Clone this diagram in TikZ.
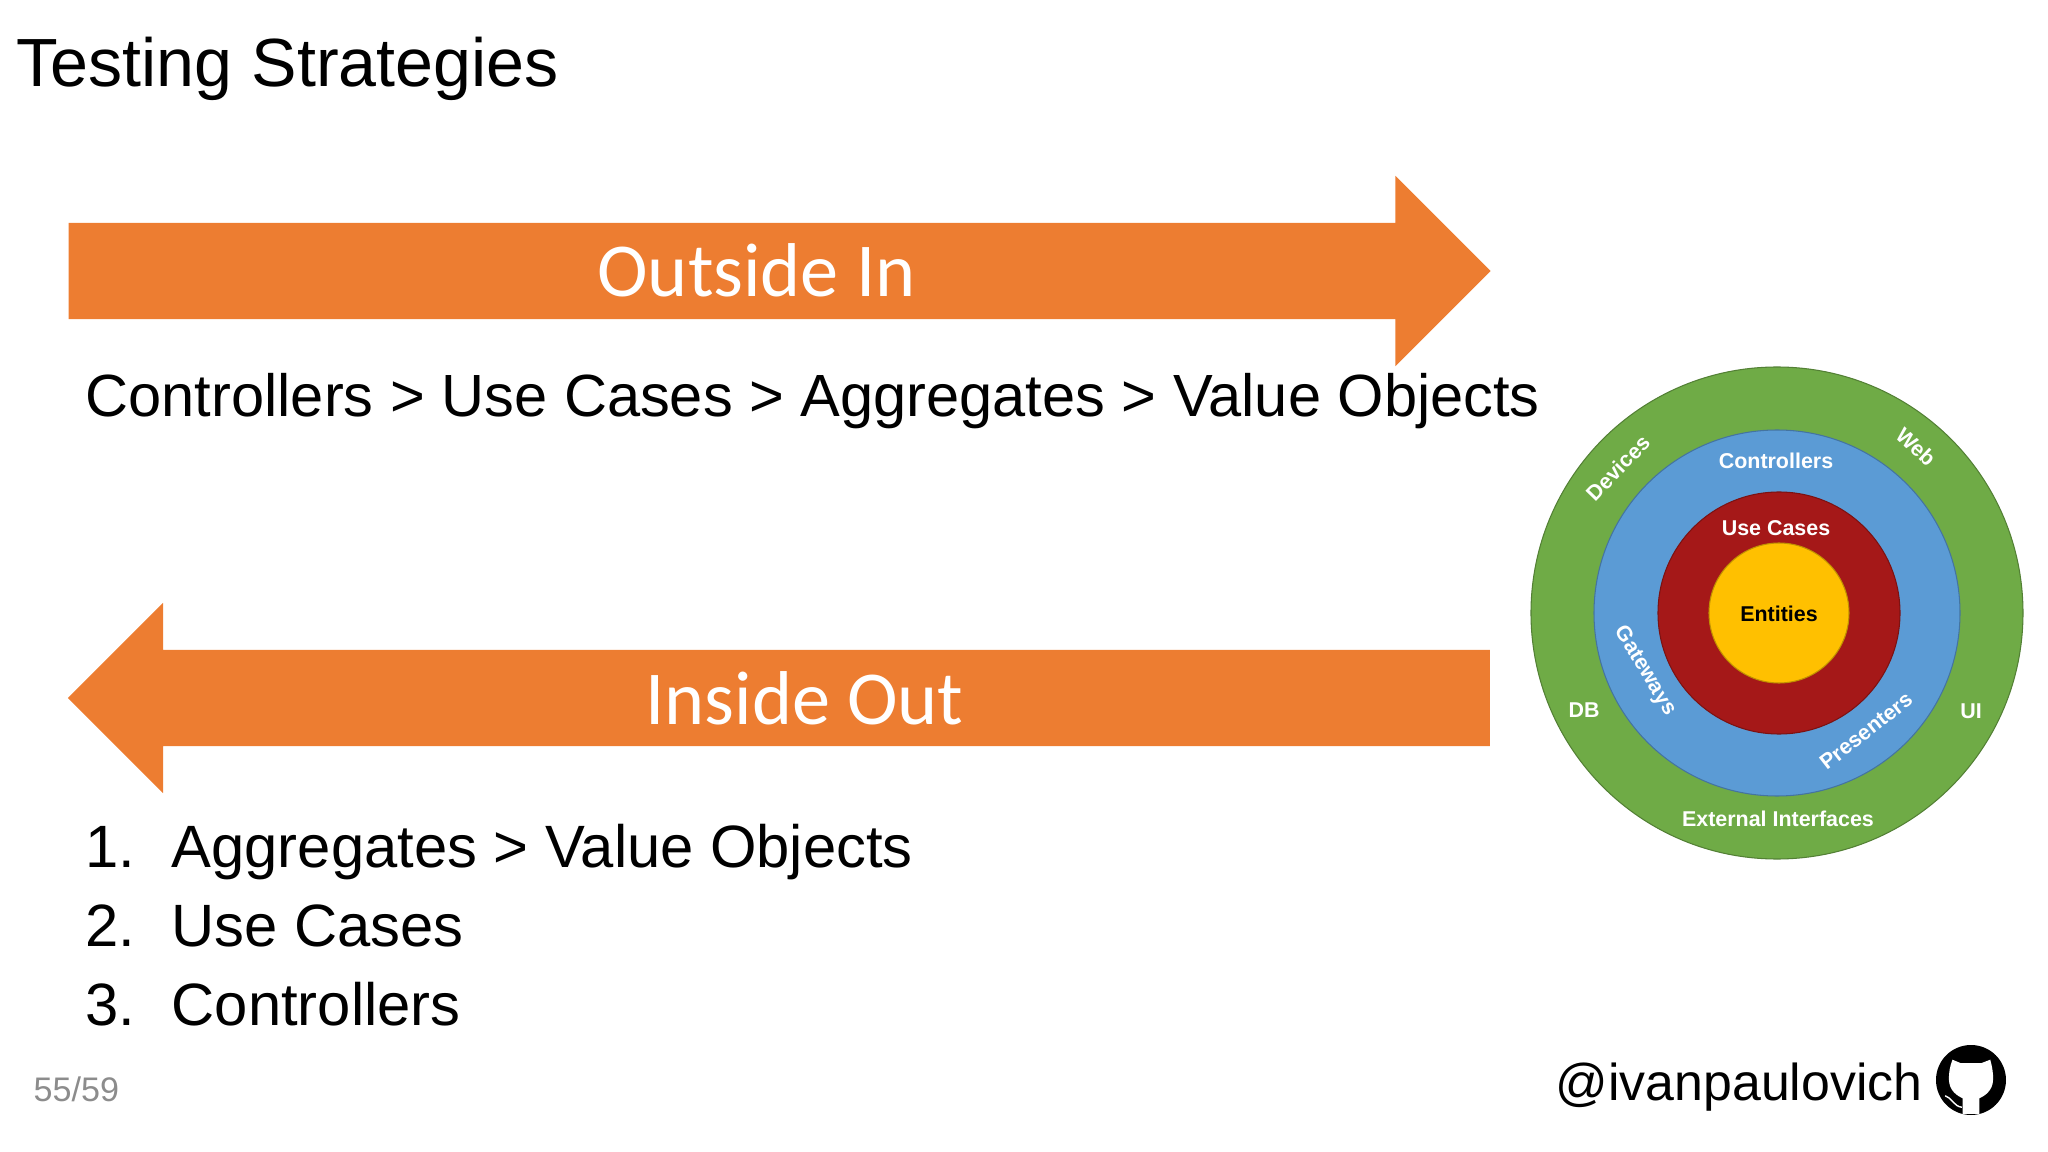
\documentclass[tikz,border=0pt]{standalone}
\usepackage{fontspec}
\setmainfont{Liberation Sans}
\newfontfamily\arrowfont{Carlito}
\usetikzlibrary{positioning,shapes.arrows}
\definecolor{arrowcol}{HTML}{ED7D31}
\definecolor{outercol}{HTML}{6FAB46}
\definecolor{middlecol}{HTML}{5B9BD5}
\definecolor{innercol}{HTML}{A51818}
\definecolor{corecol}{HTML}{FFC000}
\definecolor{pagecol}{HTML}{8C8C8C}
\tikzset{
  bigarrow/.style={single arrow, fill=arrowcol, inner xsep=0pt, inner ysep=0.475cm, minimum height=14.22cm,
    single arrow head extend=0.47cm, shape border rotate=#1},
  arrowlabel/.style={anchor=base, inner sep=0pt, text=white, font=\arrowfont\fontsize{21.7}{22}\selectfont},
  bodytext/.style={anchor=base west, inner sep=0pt, font=\fontsize{17}{17}\selectfont},
  ringlabel/.style={inner sep=0pt, text=white, font=\bfseries\fontsize{6.1}{6.1}\selectfont},
  pics/octocat/.style={
    code = {
        \fill[black] (0,0) circle (#1);
        \fill[white, scale=#1] (-0.53,0.58) -- (-0.29,0.48) -- (0.29,0.48) -- (0.55,0.58)
            .. controls (0.6,0.4) and (0.64,0.2) .. (0.63,0)
            .. controls (0.62,-0.3) and (0.4,-0.45) .. (0.24,-0.52) -- (0.24,-0.97) -- (-0.24,-0.97) -- (-0.24,-0.52)
            .. controls (-0.4,-0.45) and (-0.62,-0.3) .. (-0.63,0)
            .. controls (-0.64,0.2) and (-0.6,0.4) .. cycle;
        \draw[white, line width=0.4pt, scale=#1] (-0.74,-0.45) .. controls (-0.55,-0.5) and (-0.5,-0.75) .. (-0.26,-0.78);
    }
  }
}
\begin{document}
\begin{tikzpicture}
    \useasboundingbox (0,0) rectangle (20.48,-11.52);
    \node (title) [anchor=base west, inner sep=0pt, font=\fontsize{19.4}{19.4}\selectfont] at (0.16,-0.87) {Testing Strategies};

    \node (outsidearrow) [bigarrow=0] at (7.555,-2.71) {};
    \node (outsidelabel) [arrowlabel] at (7.565,-2.97) {Outside In};
    \node (outsidetext) [bodytext, font=\fontsize{16.95}{17}\selectfont] at (0.85,-4.17) {Controllers > Use Cases > Aggregates > Value Objects};

    \node (insidearrow) [bigarrow=180] at (8.03,-6.98) {};
    \node (insidelabel) [arrowlabel] at (8.045,-7.24) {Inside Out};

    % numbered list
    \foreach \txt [count=\i, evaluate=\i as \ypos using -8.68-0.785*(\i-1)] in {Aggregates > Value Objects, Use Cases, Controllers} {
        \node (num\i) [bodytext] at (0.85,\ypos) {\i.};
        \node (item\i) [bodytext] at (1.71,\ypos) {\txt};
    }

    % rings
    \foreach \rad/\col/\name/\xpos in {2.46/outercol/outer/17.77, 1.83/middlecol/middle/17.77, 1.21/innercol/inner/17.79, 0.70/corecol/core/17.79} {
        \node (\name) [circle, fill=\col, draw=black!25!\col, line width=0.3pt, minimum size=2*\rad cm, inner sep=0pt] at (\xpos,-6.13) {};
    }
    \node (devices) [ringlabel, rotate=46] at (16.18,-4.68) {Devices};
    \node (web) [ringlabel, rotate=-43] at (19.16,-4.47) {Web};
    \node (controllers) [ringlabel] at (17.76,-4.61) {Controllers};
    \node (usecases) [ringlabel] at (17.76,-5.28) {Use Cases};
    \node (entities) [ringlabel, text=black] at (17.79,-6.14) {Entities};
    \node (gateways) [ringlabel, rotate=-59] at (16.45,-6.71) {Gateways};
    \node (presenters) [ringlabel, rotate=38] at (18.66,-7.31) {Presenters};
    \node (db) [ringlabel] at (15.84,-7.10) {DB};
    \node (ui) [ringlabel] at (19.71,-7.11) {UI};
    \node (external) [ringlabel] at (17.78,-8.19) {External Interfaces};

    \node (pagenum) [anchor=base west, inner sep=0pt, text=pagecol, font=\fontsize{9.7}{10}\selectfont] at (0.33,-11.01) {55/59};
    \node (handle) [anchor=base west, inner sep=0pt, font=\fontsize{14.75}{15}\selectfont] at (15.55,-11.00) {@ivanpaulovich};
    \draw pic (logo) at (19.71,-10.80) {octocat=0.35};
\end{tikzpicture}
\end{document}
